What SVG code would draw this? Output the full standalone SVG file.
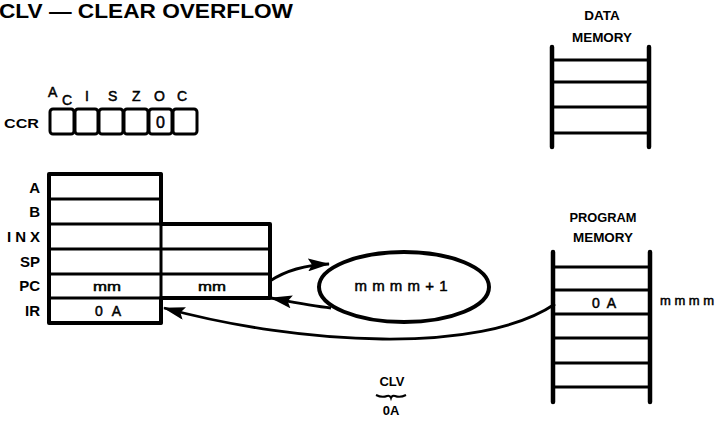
<svg xmlns="http://www.w3.org/2000/svg" width="718" height="423" viewBox="0 0 718 423">
<style>
.bg{fill:#fff}
.lbl{font-family:"Liberation Sans",Arial,sans-serif;font-weight:bold;fill:#000}
.txt{font-family:"Liberation Sans",Arial,sans-serif;fill:#000;stroke:#000;stroke-width:0.5}
.box{fill:none;stroke:#000;stroke-width:4;stroke-linejoin:round;stroke-linecap:round}
.ln{fill:none;stroke:#000;stroke-width:3;stroke-linecap:round}
.rail{fill:none;stroke:#000;stroke-width:4.5;stroke-linecap:round}
.conn{fill:none;stroke:#000;stroke-width:2.8}
</style>
<defs>
<marker id="ah" viewBox="0 0 22 13" refX="21" refY="6.5" markerWidth="22" markerHeight="13" markerUnits="userSpaceOnUse" orient="auto">
<path d="M0,0 L22,6.5 L0,13 L4,6.5 Z" fill="#000"/>
</marker>
</defs>
<rect class="bg" x="0" y="0" width="718" height="423"/>
<text class="lbl" x="-1" y="18" font-size="20" textLength="294" lengthAdjust="spacingAndGlyphs">CLV — CLEAR OVERFLOW</text>

<g id="ccr">
<text class="lbl" x="4" y="128" font-size="13" textLength="35" lengthAdjust="spacingAndGlyphs">CCR</text>
<g class="txt" font-size="14">
<text x="48" y="97">A</text>
<text x="62" y="105">C</text>
<text x="85" y="101">I</text>
<text x="108" y="101">S</text>
<text x="132" y="101">Z</text>
<text x="154" y="101">O</text>
<text x="177" y="101">C</text>
</g>
<rect class="ln" x="50" y="109" width="24" height="25" rx="3"/>
<rect class="ln" x="75" y="109" width="23" height="25" rx="3"/>
<rect class="ln" x="99" y="109" width="24" height="25" rx="3"/>
<rect class="ln" x="124" y="109" width="24" height="25" rx="3"/>
<rect class="ln" x="149" y="109" width="23" height="25" rx="3"/>
<rect class="ln" x="173" y="109" width="24" height="25" rx="3"/>
<text class="txt" x="160.5" y="128" font-size="16" text-anchor="middle">0</text>
</g>

<g id="registers">
<g class="lbl" font-size="15" text-anchor="end">
<text x="40" y="193">A</text>
<text x="40" y="217">B</text>
<text x="40" y="242" textLength="33" lengthAdjust="spacing">INX</text>
<text x="40" y="267">SP</text>
<text x="40" y="291">PC</text>
<text x="40" y="316">IR</text>
</g>
<path class="box" d="M49,174 H161 V224 H270 V298 H161 V323 H49 Z"/>
<path class="ln" d="M49,199 H161 M49,224 H161 M49,249 H270 M49,274 H270 M49,298 H161 M161,174 V323"/>
<text class="txt" x="107" y="291" font-size="13" text-anchor="middle" textLength="28" lengthAdjust="spacingAndGlyphs">mm</text>
<text class="txt" x="212" y="291" font-size="13" text-anchor="middle" textLength="28" lengthAdjust="spacingAndGlyphs">mm</text>
<text class="txt" x="108" y="316" font-size="14" text-anchor="middle" textLength="26" lengthAdjust="spacing">0A</text>
</g>

<g id="pc-increment">
<ellipse class="box" cx="404" cy="287" rx="85" ry="35"/>
<text class="txt" x="401" y="291" font-size="15" text-anchor="middle" textLength="93" lengthAdjust="spacing">mmmm+1</text>
</g>

<g id="data-memory">
<text class="lbl" x="602" y="20" font-size="13.5" text-anchor="middle">DATA</text>
<text class="lbl" x="602" y="42" font-size="13.5" text-anchor="middle" textLength="60" lengthAdjust="spacingAndGlyphs">MEMORY</text>
<path class="rail" d="M552,47 V147 M649,47 V147"/>
<path class="ln" d="M552,60 H649 M552,82 H649 M552,107 H649 M552,133 H649"/>
</g>

<g id="program-memory">
<text class="lbl" x="603" y="222" font-size="13.5" text-anchor="middle" textLength="67" lengthAdjust="spacingAndGlyphs">PROGRAM</text>
<text class="lbl" x="603" y="242" font-size="13.5" text-anchor="middle" textLength="60" lengthAdjust="spacingAndGlyphs">MEMORY</text>
<path class="rail" d="M553,252 V402 M650,252 V402"/>
<path class="ln" d="M553,267 H650 M553,290 H650 M553,314 H650 M553,338 H650 M553,363 H650 M553,387 H650"/>
<text class="txt" x="604" y="308" font-size="14" text-anchor="middle" textLength="24" lengthAdjust="spacing">0A</text>
<text class="txt" x="660" y="305" font-size="13" textLength="54" lengthAdjust="spacing">mmmm</text>
</g>

<g id="opcode">
<text class="lbl" x="392" y="386" font-size="13" text-anchor="middle">CLV</text>
<path d="M376,395 Q382,398 387,396 Q390,395 391,398 Q392,395 395,396 Q400,398 406,395" fill="none" stroke="#000" stroke-width="2"/>
<text class="lbl" x="391" y="415" font-size="13" text-anchor="middle">0A</text>
</g>

<g id="connectors">
<path class="conn" d="M270,281 C285,271 305,265 329,264" marker-end="url(#ah)"/>
<path class="conn" d="M331,308 C312,306 292,302 271,298" marker-end="url(#ah)"/>
<path class="conn" d="M555,304 C480,355 300,345 164,308" marker-end="url(#ah)"/>
</g>
</svg>
